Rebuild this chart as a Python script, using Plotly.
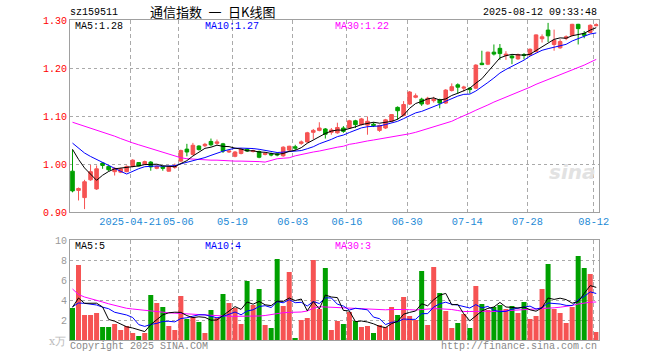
import numpy as np
import plotly.graph_objects as go

# ---------------- data ----------------
tick_idx = [10, 18, 27, 37, 46, 56, 66, 76, 87]
tick_labels = ["2025-04-21", "05-06", "05-19", "06-03", "06-16", "06-30", "07-14", "07-28", "08-12"]

opens = [0.985, 0.945, 0.930, 0.967, 0.948, 1.002, 0.995, 0.984, 0.983, 0.984,
         0.995, 1.003, 1.000, 1.004, 0.991, 0.994, 0.985, 0.993, 1.006, 1.031,
         1.020, 1.0375, 1.038, 1.047, 1.043, 1.042, 1.025, 1.016, 1.022, 1.031,
         1.026, 1.026, 1.020, 1.021, 1.021, 1.017, 1.029, 1.036, 1.043, 1.046,
         1.066, 1.070, 1.073, 1.066, 1.065, 1.075, 1.075, 1.090, 1.082, 1.081,
         1.083, 1.070, 1.075, 1.089, 1.118, 1.101, 1.125, 1.139, 1.135, 1.125,
         1.132, 1.134, 1.127, 1.153, 1.165, 1.158, 1.158, 1.158, 1.210, 1.208,
         1.233, 1.241, 1.226, 1.225, 1.219, 1.228, 1.227, 1.234, 1.261, 1.279,
         1.249, 1.242, 1.262, 1.268, 1.291, 1.272, 1.274, 1.288]
highs = [1.030, 0.951, 0.967, 0.998, 0.997, 1.003, 0.997, 0.993, 0.992, 0.997,
         1.010, 1.004, 1.007, 1.006, 0.997, 0.996, 0.996, 1.001, 1.030, 1.042,
         1.044, 1.039, 1.044, 1.053, 1.051, 1.044, 1.028, 1.027, 1.032, 1.033,
         1.030, 1.028, 1.025, 1.024, 1.024, 1.037, 1.038, 1.040, 1.049, 1.067,
         1.073, 1.087, 1.075, 1.075, 1.086, 1.079, 1.092, 1.092, 1.096, 1.099,
         1.087, 1.082, 1.094, 1.104, 1.120, 1.131, 1.152, 1.147, 1.138, 1.140,
         1.140, 1.136, 1.156, 1.168, 1.168, 1.163, 1.160, 1.208, 1.236, 1.234,
         1.249, 1.250, 1.235, 1.227, 1.230, 1.231, 1.241, 1.270, 1.270, 1.294,
         1.280, 1.260, 1.268, 1.292, 1.292, 1.277, 1.291, 1.293]
lows = [0.941, 0.924, 0.906, 0.965, 0.946, 0.990, 0.985, 0.976, 0.981, 0.983,
        0.993, 0.995, 0.998, 0.986, 0.989, 0.986, 0.984, 0.990, 1.004, 1.016,
        1.018, 1.028, 1.035, 1.037, 1.040, 1.023, 1.023, 1.014, 1.020, 1.025,
        1.024, 1.012, 1.018, 1.016, 1.016, 1.015, 1.027, 1.028, 1.040, 1.044,
        1.052, 1.068, 1.053, 1.061, 1.063, 1.065, 1.073, 1.075, 1.080, 1.061,
        1.077, 1.067, 1.073, 1.087, 1.092, 1.099, 1.123, 1.137, 1.121, 1.123,
        1.128, 1.116, 1.125, 1.151, 1.146, 1.151, 1.147, 1.156, 1.206, 1.206,
        1.226, 1.217, 1.217, 1.208, 1.217, 1.218, 1.225, 1.233, 1.253, 1.254,
        1.236, 1.240, 1.258, 1.266, 1.249, 1.262, 1.272, 1.287]
closes = [0.944, 0.949, 0.963, 0.984, 0.990, 0.997, 0.988, 0.991, 0.990, 0.995,
          1.008, 0.996, 1.005, 0.994, 0.995, 0.991, 0.994, 0.997, 1.028, 1.025,
          1.039, 1.030, 1.041, 1.040, 1.046, 1.027, 1.027, 1.025, 1.031, 1.027,
          1.028, 1.014, 1.022, 1.019, 1.019, 1.035, 1.037, 1.033, 1.046, 1.065,
          1.070, 1.075, 1.062, 1.071, 1.076, 1.068, 1.090, 1.082, 1.094, 1.089,
          1.080, 1.080, 1.092, 1.103, 1.111, 1.124, 1.150, 1.142, 1.125, 1.137,
          1.135, 1.127, 1.154, 1.161, 1.160, 1.160, 1.155, 1.206, 1.207, 1.233,
          1.229, 1.230, 1.229, 1.221, 1.228, 1.226, 1.239, 1.269, 1.265, 1.267,
          1.258, 1.255, 1.265, 1.291, 1.282, 1.268, 1.289, 1.290]
# closes before the first visible day (only feed the MA5 / MA10 lines)
prior_closes = [1.060, 1.058, 1.056, 1.055, 1.053, 1.054, 1.052, 1.051, 1.052]

ma30_price = [1.087, 1.083, 1.078, 1.075, 1.070, 1.067, 1.062, 1.058, 1.053, 1.048,
              1.044, 1.040, 1.036, 1.033, 1.029, 1.025, 1.021, 1.017, 1.013, 1.011,
              1.010, 1.009, 1.009, 1.008, 1.008, 1.007, 1.007, 1.006, 1.006, 1.006,
              1.0056, 1.005, 1.004, 1.008, 1.011, 1.012, 1.013, 1.017, 1.020, 1.022,
              1.025, 1.027, 1.030, 1.033, 1.035, 1.037, 1.041, 1.043, 1.046, 1.048,
              1.050, 1.052, 1.054, 1.056, 1.058, 1.060, 1.063, 1.066, 1.070, 1.074,
              1.078, 1.081, 1.085, 1.089, 1.095, 1.100, 1.106, 1.112, 1.117, 1.123,
              1.129, 1.134, 1.139, 1.145, 1.150, 1.155, 1.160, 1.166, 1.171, 1.176,
              1.181, 1.186, 1.190, 1.195, 1.200, 1.206, 1.212, 1.218]

volumes = [3.2, 7.5, 2.5, 2.5, 2.7, 1.3, 1.3, 1.6, 1.0, 1.4,
           0.7, 0.4, 0.7, 4.5, 3.7, 3.3, 1.4, 1.0, 4.4, 2.1,
           2.3, 1.8, 0.7, 3.0, 2.2, 4.6, 3.7, 3.2, 1.6, 5.9,
           3.5, 5.1, 1.5, 1.2, 8.1, 3.4, 6.8, 0.2, 2.0, 2.2,
           8.0, 3.1, 7.2, 1.0, 1.9, 1.6, 2.8, 1.9, 1.3, 1.4,
           0.7, 1.5, 1.3, 3.3, 2.5, 4.3, 2.4, 2.0, 6.9, 1.5,
           7.3, 4.7, 2.9, 1.2, 1.7, 2.6, 1.2, 5.4, 3.6, 3.0,
           3.3, 3.5, 3.1, 3.4, 2.7, 3.8, 2.1, 2.4, 5.1, 7.6,
           3.1, 2.7, 1.7, 3.3, 8.4, 7.2, 6.6, 0.8]
prior_volumes = [3.8, 2.8, 3.5, 3.4, 3.45, 2.85, 5.15, 2.5, 2.65]

ma30_volume = [5.1, 4.55, 4.3, 4.15, 4.0, 3.8, 3.62, 3.45, 3.3, 3.17,
               3.1, 3.05, 2.95, 2.88, 2.83, 2.78, 2.72, 2.68, 2.65, 2.6,
               2.55, 2.5, 2.47, 2.45, 2.4, 2.38, 2.37, 2.37, 2.37, 2.37,
               2.37, 2.4, 2.45, 2.55, 2.65, 2.73, 2.76, 2.78, 2.8, 2.9,
               3.17, 3.33, 3.3, 3.27, 3.25, 3.23, 3.2, 3.18, 3.15, 3.12,
               3.07, 3.02, 3.02, 3.05, 3.07, 3.05, 3.03, 3.0, 3.05, 3.12,
               3.13, 3.12, 3.1, 3.05, 2.95, 2.85, 2.85, 2.88, 2.9, 2.88,
               2.85, 2.88, 2.95, 3.0, 3.02, 3.05, 3.07, 3.1, 3.12, 3.17,
               3.22, 3.28, 3.33, 3.45, 3.6, 3.7, 3.78, 3.8]

y_ticks = [0.90, 1.00, 1.10, 1.20, 1.30]
vol_ticks = [2, 4, 6, 8, 10]

# ---------------- derived ----------------
n = len(closes)
idx = np.arange(n)


def moving_avg(prior, vals, w):
    s = np.array(prior + vals, dtype=float)
    out = np.convolve(s, np.ones(w) / w, mode="valid")
    return out[len(out) - len(vals):]


ma5_p = moving_avg(prior_closes, closes, 5)
ma10_p = moving_avg(prior_closes, closes, 10)
ma5_v = moving_avg(prior_volumes, volumes, 5)
ma10_v = moving_avg(prior_volumes, volumes, 10)

RED = "#f65353"
GREEN = "#00a000"
bar_colors = [RED if c >= o else GREEN for o, c in zip(opens, closes)]

# the page body margin is removed below, so figure pixels == page pixels
W, H = 660, 360


def fx(px):
    return px / W


def fy(py):
    return 1 - py / H


X0, X1 = 70, 598.5
MAIN_T, MAIN_B = 20, 212
VOL_T, VOL_B = 240, 340
# bar i centre sits at 72.5 + 6.02 * i px on the page
XR = [(X0 - 72.5) / 6.02, (X1 - 72.5) / 6.02]
grid_pos = [i - 2.5 / 6.02 for i in tick_idx]

MONO = "Liberation Mono"

fig = go.Figure()
fig.add_trace(go.Candlestick(
    x=idx, open=opens, high=highs, low=lows, close=closes,
    increasing=dict(line=dict(color=RED, width=1), fillcolor=RED),
    decreasing=dict(line=dict(color=GREEN, width=1), fillcolor=GREEN),
    whiskerwidth=0, showlegend=False, hoverinfo="skip",
    xaxis="x", yaxis="y"))
for vals, col in [(ma30_price, "#ff00ff"), (ma10_p, "#0000ff"), (ma5_p, "#000000")]:
    fig.add_trace(go.Scatter(x=idx, y=vals, mode="lines",
                             line=dict(color=col, width=1), showlegend=False,
                             hoverinfo="skip", xaxis="x", yaxis="y"))

fig.add_trace(go.Bar(x=idx, y=volumes, marker=dict(color=bar_colors, line=dict(width=0)),
                     width=0.83, showlegend=False, hoverinfo="skip",
                     xaxis="x2", yaxis="y2"))
for vals, col in [(ma30_volume, "#ff00ff"), (ma10_v, "#0000ff"), (ma5_v, "#000000")]:
    fig.add_trace(go.Scatter(x=idx, y=vals, mode="lines",
                             line=dict(color=col, width=1), showlegend=False,
                             hoverinfo="skip", xaxis="x2", yaxis="y2"))

dom_x = [fx(X0), fx(X1)]
common_x = dict(domain=dom_x, range=XR, tickmode="array", tickvals=grid_pos,
                showgrid=True, gridcolor="#aaaaaa", griddash="4px,3px", gridwidth=1,
                showline=True, linecolor="#a0a0a0", linewidth=1, mirror=True,
                zeroline=False, ticks="", fixedrange=True, automargin=False,
                tickangle=0)
common_y = dict(showgrid=True, gridcolor="#aaaaaa", griddash="dot",
                showline=True, linecolor="#a0a0a0", linewidth=1, mirror=True,
                zeroline=False, ticks="", fixedrange=True, automargin=False,
                tickmode="array")

fig.update_layout(
    width=W, height=H, margin=dict(l=0, r=0, t=0, b=0, autoexpand=False),
    paper_bgcolor="white", plot_bgcolor="white", boxgap=0.15,
    xaxis=dict(**common_x, anchor="y", ticktext=tick_labels,
               tickfont=dict(family=MONO, size=10.3, color="#1e8ad6"),
               rangeslider=dict(visible=False)),
    xaxis2=dict(**common_x, anchor="y2", showticklabels=False),
    yaxis=dict(**common_y, domain=[fy(MAIN_B), fy(MAIN_T)], range=[0.90, 1.30],
               tickvals=y_ticks, ticktext=[f"{v:.2f}" for v in y_ticks],
               tickfont=dict(family=MONO, size=10, color="#ff0000"), anchor="x"),
    yaxis2=dict(**common_y, domain=[fy(VOL_B), fy(VOL_T)], range=[0, 10],
                tickvals=vol_ticks, ticktext=[str(v) for v in vol_ticks],
                tickfont=dict(family=MONO, size=10, color="#999999"), anchor="x2"),
)


def note(text, px, py, anchor="left", color="#000000", size=10, family=MONO, **kw):
    fig.add_annotation(text=text, x=fx(px), y=fy(py), xref="paper", yref="paper",
                       xanchor=anchor, yanchor="middle", showarrow=False,
                       font=dict(family=family, size=size, color=color),
                       borderpad=0, **kw)


note("sz159511", 69, 12.5)
note("通信指数\u2002一\u2002日K线图", 149, 11.8, family="Noto Sans CJK SC", size=13)
note("2025-08-12 09:33:48", 598, 12.5, anchor="right")
note(f"MA5:{ma5_p[-1]:.2f}", 74, 26.8)
note(f"MA10:{ma10_p[-1]:.2f}", 204, 26.8, color="#0000ff")
note(f"MA30:{ma30_price[-1]:.2f}", 334, 26.8, color="#ff00ff")
note(f"MA5:{int(ma5_v[-1])}", 74, 246)
note(f"MA10:{int(ma10_v[-1])}", 204, 246, color="#0000ff")
note(f"MA30:{int(ma30_volume[-1])}", 334, 246, color="#ff00ff")
note("x万", 48, 341, color="#bbbbbb", size=11, family="DejaVu Serif")
note("Copyright 2025 SINA.COM", 69, 346, color="#888888")
note("http://finance.sina.com.cn", 598, 346, anchor="right", color="#888888")
note("<b><i>sina</i></b>", 597, 172, anchor="right", color="#e2e2e2", size=20,
     family="DejaVu Sans")

fig.write_html("out.html", config={"displayModeBar": False, "staticPlot": True},
               post_script="document.body.style.margin='0';document.body.style.overflow='hidden';")
